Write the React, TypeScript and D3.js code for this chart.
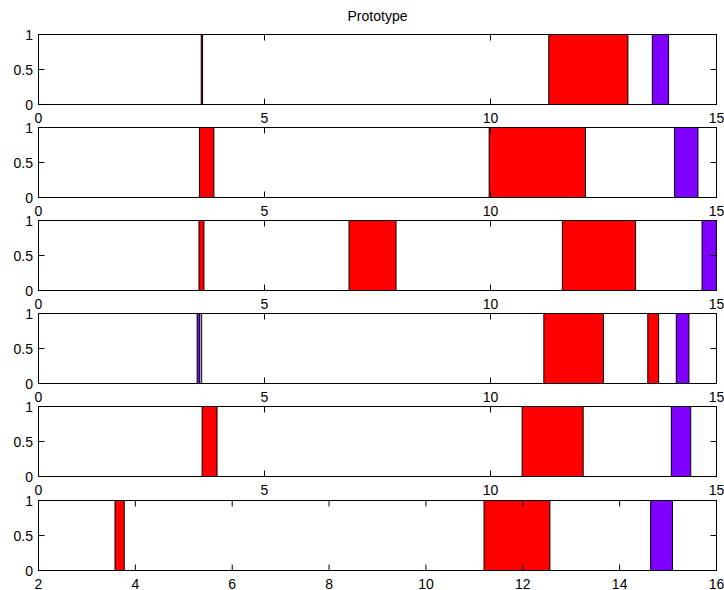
import React from "react";
import * as d3 from "d3";

const title = "Prototype";
const xDomains: [number, number][] = [[0, 15], [0, 15], [0, 15], [0, 15], [0, 15], [2, 16]];
const xTickSets: number[][] = [
  [0, 5, 10, 15],
  [0, 5, 10, 15],
  [0, 5, 10, 15],
  [0, 5, 10, 15],
  [0, 5, 10, 15],
  [2, 4, 6, 8, 10, 12, 14, 16],
];
const yTicks = [0, 0.5, 1];

// bars per panel: [start, end, kind]  kind: "r" red, "p" purple, "w" empty
const panel1 = [[3.6, 3.63, "r"], [11.29, 13.04, "r"], [13.58, 13.94, "p"]];
const panel2 = [[3.56, 3.88, "r"], [9.97, 12.1, "r"], [14.07, 14.59, "p"]];
const panel3 = [[3.55, 3.66, "r"], [6.87, 7.91, "r"], [11.59, 13.21, "r"], [14.68, 15.0, "p"]];
const panel4 = [[3.51, 3.57, "p"], [3.57, 3.61, "w"], [11.18, 12.5, "r"], [13.48, 13.72, "r"], [14.11, 14.39, "p"]];
const panel5 = [[3.62, 3.95, "r"], [10.7, 12.05, "r"], [14.0, 14.43, "p"]];
const panel6 = [[3.58, 3.77, "r"], [11.2, 12.56, "r"], [14.64, 15.09, "p"]];
const panels = [panel1, panel2, panel3, panel4, panel5, panel6];

const colors: Record<string, string> = { r: "#FF0000", p: "#8000FF", w: "#FFFFFF" };

const W = 724;
const H = 590;
const left = 38.5;
const right = 716.5;
const firstTop = 34;
const panelH = 70;
const step = 93.1;
const font = "Liberation Sans, Arial, sans-serif";

export default function App() {
  const y = d3.scaleLinear().domain([0, 1]).range([panelH, 0]);
  return (
    <svg width={W} height={H} style={{ position: "absolute", left: 0, top: 0, background: "#fff" }}>
      <rect x={0} y={0} width={W} height={H} fill="#fff" />
      <text x={(left + right) / 2} y={21} textAnchor="middle" fontFamily={font} fontSize={14} fill="#000">
        {title}
      </text>
      {panels.map((bars, i) => {
        const top = Math.round(firstTop + i * step) + 0.5;
        const x = d3.scaleLinear().domain(xDomains[i]).range([left, right]);
        const ticks = xTickSets[i];
        return (
          <g key={i} transform={`translate(0,${top})`}>
            {bars.map((b, j) => (
              <rect
                key={j}
                x={x(b[0] as number)}
                y={y(1)}
                width={Math.max(0.5, x(b[1] as number) - x(b[0] as number))}
                height={y(0) - y(1)}
                fill={colors[b[2] as string]}
                stroke="#000"
                strokeWidth={1}
              />
            ))}
            <rect x={left} y={0} width={right - left} height={panelH} fill="none" stroke="#000" strokeWidth={1} />
            {ticks.map((t) => {
              const px = x(t);
              const inner = px > left + 1 && px < right - 1;
              return (
                <g key={t}>
                  {inner && (
                    <>
                      <line x1={px} x2={px} y1={0} y2={6} stroke="#000" />
                      <line x1={px} x2={px} y1={panelH} y2={panelH - 6} stroke="#000" />
                    </>
                  )}
                  <text
                    x={px}
                    y={panelH + 18}
                    textAnchor="middle"
                    fontFamily={font}
                    fontSize={14}
                    fill="#000"
                  >
                    {t}
                  </text>
                </g>
              );
            })}
            {yTicks.map((t) => (
              <g key={t}>
                {t > 0 && t < 1 && (
                  <>
                    <line x1={left} x2={left + 6} y1={y(t)} y2={y(t)} stroke="#000" />
                    <line x1={right} x2={right - 6} y1={y(t)} y2={y(t)} stroke="#000" />
                  </>
                )}
                <text
                  x={33}
                  y={y(t) + 5}
                  textAnchor="end"
                  fontFamily={font}
                  fontSize={14}
                  fill="#000"
                >
                  {t}
                </text>
              </g>
            ))}
          </g>
        );
      })}
    </svg>
  );
}
